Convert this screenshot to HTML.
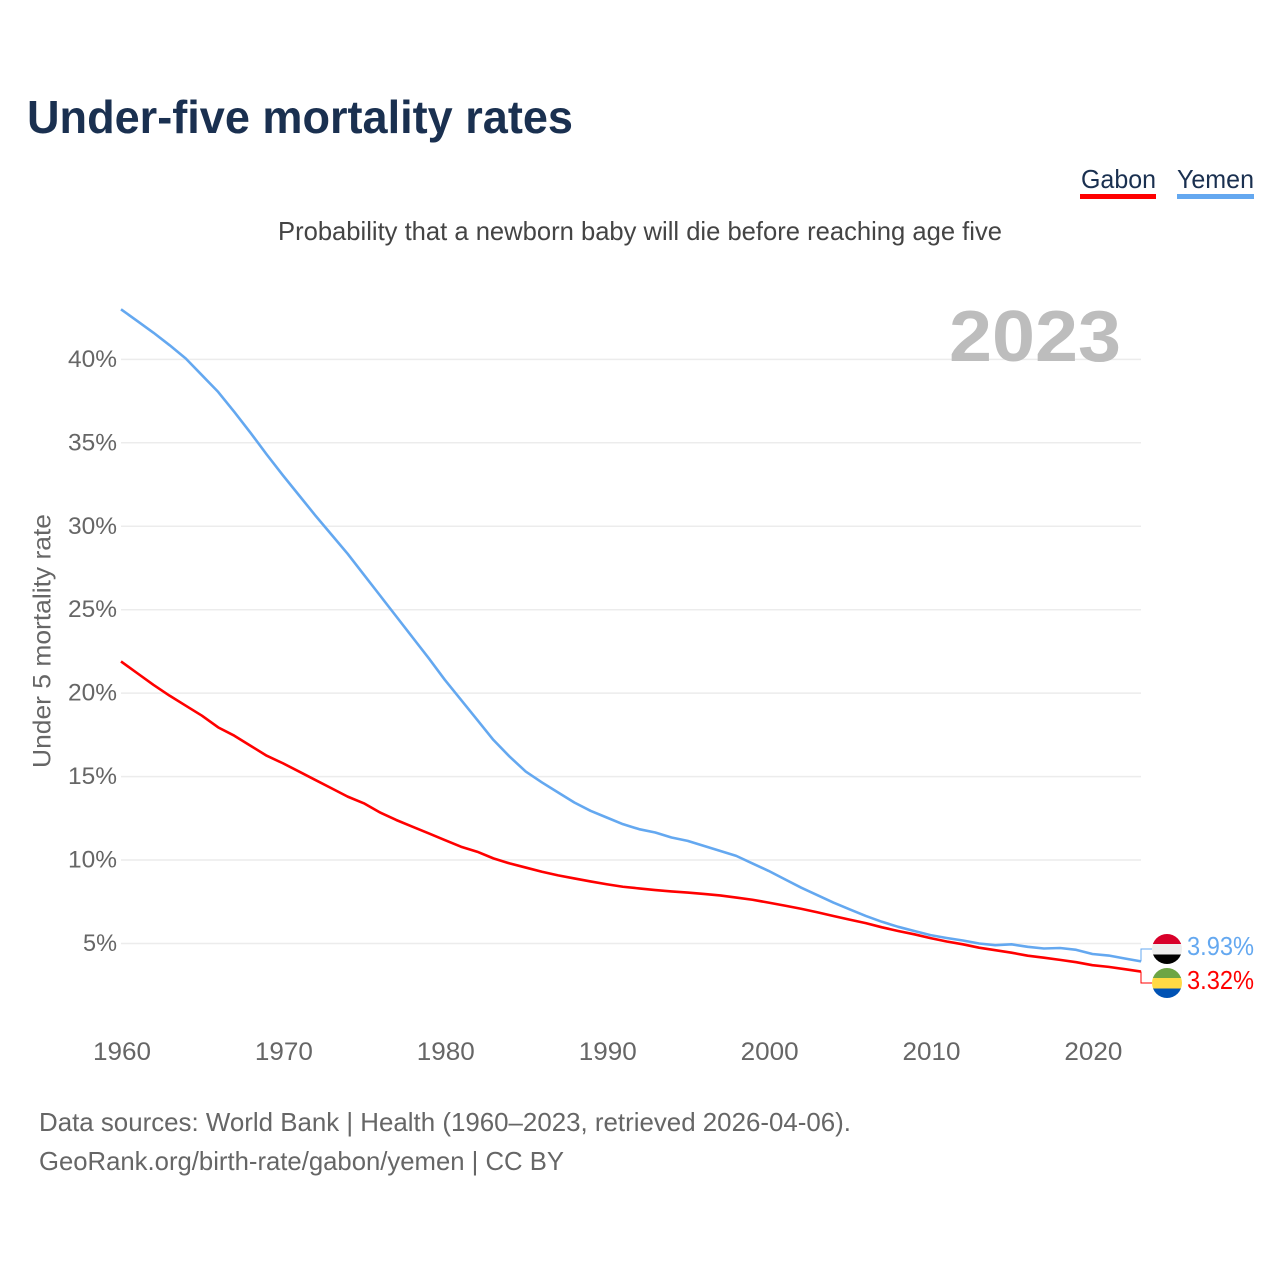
<!DOCTYPE html>
<html lang="en">
<head>
<meta charset="utf-8">
<title>Under-five mortality rates</title>
<style>
html,body{margin:0;padding:0;background:#fff;}
svg{display:block;font-family:"Liberation Sans",sans-serif;}
</style>
</head>
<body>
<svg id="chart" width="1280" height="1280" viewBox="0 0 1280 1280" xmlns="http://www.w3.org/2000/svg">
  <defs>
    <clipPath id="flag-clip-top"><circle cx="1167" cy="949" r="15"/></clipPath>
    <clipPath id="flag-clip-bottom"><circle cx="1167" cy="983" r="15"/></clipPath>
  </defs>
  <rect x="0" y="0" width="1280" height="1280" fill="#ffffff"/>
  <text x="27" y="133" font-size="46" font-weight="700" fill="#1a3050" textLength="546" lengthAdjust="spacingAndGlyphs">Under-five mortality rates</text>
  <text x="278" y="240" font-size="26" fill="#444444" textLength="724" lengthAdjust="spacingAndGlyphs">Probability that a newborn baby will die before reaching age five</text>

  <g>
    <text x="1081" y="188" font-size="26" fill="#1a3050" textLength="75" lengthAdjust="spacingAndGlyphs">Gabon</text>
    <rect x="1080" y="194" width="76" height="5" fill="#ff0000"/>
  </g>
  <g>
    <text x="1177" y="188" font-size="26" fill="#1a3050" textLength="77" lengthAdjust="spacingAndGlyphs">Yemen</text>
    <rect x="1177" y="194" width="77" height="5" fill="#64a8f0"/>
  </g>

  <text transform="translate(50.5,768) rotate(-90)" font-size="25" fill="#666666" textLength="254" lengthAdjust="spacingAndGlyphs">Under 5 mortality rate</text>

  <g id="grid"></g>
  <g id="y-ticks"></g>
  <g id="x-ticks"></g>

  <text x="949" y="361" font-size="72" font-weight="700" fill="#bdbdbd" textLength="172" lengthAdjust="spacingAndGlyphs">2023</text>

  <g id="series"></g>

  <g clip-path="url(#flag-clip-top)">
    <rect x="1150" y="933" width="34" height="11" fill="#d8002a"/>
    <rect x="1150" y="944" width="34" height="10.5" fill="#eeeeee"/>
    <rect x="1150" y="954.5" width="34" height="11" fill="#000000"/>
  </g>
  <g clip-path="url(#flag-clip-bottom)">
    <rect x="1150" y="967" width="34" height="11" fill="#6da544"/>
    <rect x="1150" y="978" width="34" height="10.5" fill="#ffda44"/>
    <rect x="1150" y="988.5" width="34" height="11" fill="#0052b4"/>
  </g>

  <g id="end-labels"></g>

  <text x="39" y="1131" font-size="26" fill="#666666" textLength="812" lengthAdjust="spacingAndGlyphs">Data sources: World Bank | Health (1960–2023, retrieved 2026-04-06).</text>
  <text x="39" y="1170" font-size="26" fill="#666666" textLength="525" lengthAdjust="spacingAndGlyphs">GeoRank.org/birth-rate/gabon/yemen | CC BY</text>
</svg>
<script>
const firstYear = 1960;
const lastYear = 2023;
const yTickValues = [5, 10, 15, 20, 25, 30, 35, 40];
const xTickValues = [1960, 1970, 1980, 1990, 2000, 2010, 2020];
const yemenValues = [
  43.0, 42.3, 41.6, 40.85, 40.05, 39.05, 38.05, 36.85, 35.6, 34.3,
  33.05, 31.85, 30.65, 29.5, 28.35, 27.1, 25.85, 24.6, 23.35, 22.1,
  20.8, 19.6, 18.4, 17.2, 16.2, 15.3, 14.65, 14.05, 13.45, 12.95,
  12.55, 12.15, 11.85, 11.65, 11.35, 11.15, 10.85, 10.55, 10.25, 9.8,
  9.35, 8.85, 8.35, 7.9, 7.45, 7.05, 6.65, 6.3, 6.0, 5.75,
  5.5, 5.33, 5.18, 5.0, 4.9, 4.95, 4.8, 4.7, 4.73, 4.62,
  4.37, 4.28, 4.1, 3.93
];
const gabonValues = [
  21.9, 21.2, 20.5, 19.85, 19.25, 18.65, 17.95, 17.45, 16.85, 16.25,
  15.8, 15.3, 14.8, 14.3, 13.8, 13.4, 12.85, 12.4, 12.0, 11.6,
  11.2, 10.8, 10.5, 10.1, 9.8, 9.55, 9.3, 9.08, 8.9, 8.72,
  8.55, 8.4, 8.3, 8.2, 8.12, 8.05, 7.97, 7.88, 7.75, 7.62,
  7.45, 7.27, 7.08, 6.87, 6.65, 6.43, 6.22, 5.97, 5.75, 5.55,
  5.32, 5.12, 4.95, 4.75, 4.6, 4.45, 4.27, 4.15, 4.02, 3.88,
  3.7, 3.6, 3.46, 3.32
];

const SVG_NS = 'http://www.w3.org/2000/svg';
const xLeft = 121;
const xRight = 1141;
function xScale(year) {
  return xLeft + (year - firstYear) * (xRight - xLeft) / (lastYear - firstYear);
}
function yScale(value) {
  return 943.5 - (value - 5) * 16.69;
}
function make(tag, attrs, parent) {
  const el = document.createElementNS(SVG_NS, tag);
  Object.keys(attrs).forEach(function (k) { el.setAttribute(k, attrs[k]); });
  parent.appendChild(el);
  return el;
}
function pointsFor(values) {
  return values.map(function (v, i) {
    return xScale(firstYear + i).toFixed(2) + ',' + yScale(v).toFixed(2);
  }).join(' ');
}

const gridGroup = document.getElementById('grid');
const yTickGroup = document.getElementById('y-ticks');
yTickValues.forEach(function (v) {
  const line = make('line', {x1: xLeft, x2: xRight, y1: yScale(v), y2: yScale(v), stroke: '#ececec', 'stroke-width': 1.5}, gridGroup);
  
  
  const label = make('text', {x: 117, y: yScale(v) + 7.5, 'text-anchor': 'end', 'font-size': 24.5, fill: '#666666', textLength: v < 10 ? 34 : 49, lengthAdjust: 'spacingAndGlyphs'}, yTickGroup);
  label.textContent = v + '%';
  
  
});

const xTickGroup = document.getElementById('x-ticks');
xTickValues.forEach(function (year) {
  const label = make('text', {x: xScale(year) + 1, y: 1060, 'text-anchor': 'middle', 'font-size': 25, fill: '#666666', textLength: 58, lengthAdjust: 'spacingAndGlyphs'}, xTickGroup);
  label.textContent = String(year);
  
  
});

const seriesGroup = document.getElementById('series');
const yemenLine = make('polyline', {points: pointsFor(yemenValues), fill: 'none', stroke: '#64a8f0', 'stroke-width': 2.6, 'stroke-linejoin': 'round'}, seriesGroup);


const gabonLine = make('polyline', {points: pointsFor(gabonValues), fill: 'none', stroke: '#ff0000', 'stroke-width': 2.6, 'stroke-linejoin': 'round'}, seriesGroup);



const endGroup = document.getElementById('end-labels');
const yemenEnd = yemenValues[yemenValues.length - 1];
const gabonEnd = gabonValues[gabonValues.length - 1];
const yemenLeader = make('polyline', {points: xRight + ',' + yScale(yemenEnd) + ' ' + xRight + ',949 1152,949', fill: 'none', stroke: '#64a8f0', 'stroke-width': 1}, endGroup);


const gabonLeader = make('polyline', {points: xRight + ',' + yScale(gabonEnd) + ' ' + xRight + ',983 1152,983', fill: 'none', stroke: '#ff0000', 'stroke-width': 1}, endGroup);


const yemenLabel = make('text', {x: 1187, y: 955, 'font-size': 26, fill: '#64a8f0', textLength: 67, lengthAdjust: 'spacingAndGlyphs'}, endGroup);
yemenLabel.textContent = yemenEnd.toFixed(2) + '%';


const gabonLabel = make('text', {x: 1187, y: 989, 'font-size': 26, fill: '#ff0000', textLength: 67, lengthAdjust: 'spacingAndGlyphs'}, endGroup);
gabonLabel.textContent = gabonEnd.toFixed(2) + '%';


</script>
</body>
</html>
